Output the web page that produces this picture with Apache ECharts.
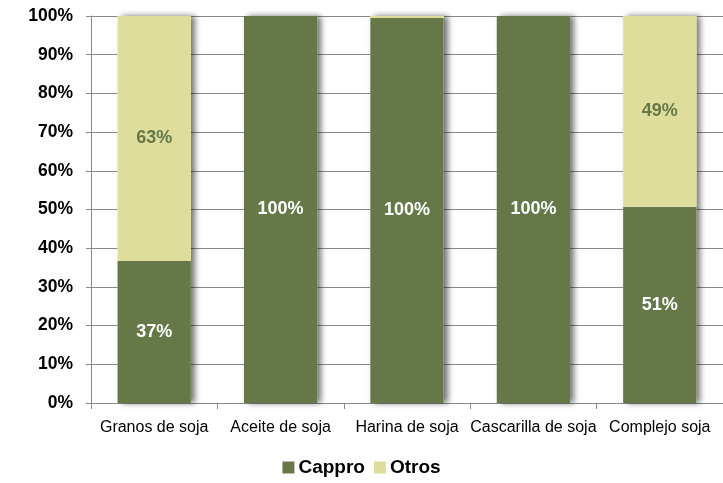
<!DOCTYPE html>
<html><head><meta charset="utf-8">
<script src="https://cdn.jsdelivr.net/npm/echarts@6/dist/echarts.min.js"></script>
<style>html,body{margin:0;padding:0;background:#fff}#c{width:723px;height:483px}</style>
</head><body><div id="c"></div>
<script>
const categories = ["Granos de soja", "Aceite de soja", "Harina de soja", "Cascarilla de soja", "Complejo soja"];
const cappro = [36.7, 100, 99.5, 100, 50.7];
const otros = [63.3, 0, 0.5, 0, 49.3];
const yTicks = [0, 10, 20, 30, 40, 50, 60, 70, 80, 90, 100];

const FONT = '"Liberation Sans", Arial, sans-serif';
const totals = cappro.map((v, i) => v + otros[i]);
const chart = echarts.init(document.getElementById('c'));
function lbl(v){ return v >= 5 ? Math.round(v) + '%' : ''; }
chart.setOption({
  animation: false,
  textStyle: {fontFamily: FONT},
  grid: {left: 91, right: 0, top: 16, bottom: 80, containLabel: false},
  legend: {
    bottom: 1, left: 'center', itemWidth: 12, itemHeight: 12, itemGap: 9,
    icon: 'rect',
    textStyle: {fontFamily: FONT, fontWeight: 'bold', fontSize: 19, color: '#000', padding:[0,0,0,-1]},
    data: ['Cappro', 'Otros']
  },
  xAxis: {
    type: 'category', data: categories,
    axisLine: {lineStyle: {color: '#888', width: 1}},
    axisTick: {show: true, length: 6, interval: 0, lineStyle: {color: '#888'}},
    axisLabel: {color: '#000', fontSize: 16, margin: 17, interval: 0, fontFamily: FONT}
  },
  yAxis: {
    type: 'value', min: 0, max: 100, interval: 10,
    axisLine: {show: true, lineStyle: {color: '#888'}},
    axisTick: {show: true, length: 5, lineStyle: {color: '#888'}},
    splitLine: {lineStyle: {color: '#888', width: 1}},
    axisLabel: {color: '#000', fontSize: 17.5, fontWeight: 'bold', margin: 18,
      formatter: v => yTicks.includes(v) ? v + '%' : ''}
  },
  series: [
    {name: 'shadow', type: 'bar', data: totals, barWidth: '58%', barGap: '-100%', silent: true, z: 1,
      itemStyle: {color: '#fff', shadowColor: 'rgba(0,0,0,0.55)', shadowBlur: 6, shadowOffsetX: 4, shadowOffsetY: 0},
      label: {show: false}},
    {name: 'Cappro', type: 'bar', stack: 's', data: cappro, barWidth: '58%', barGap: '-100%', z: 2,
      itemStyle: {color: '#677848'},
      label: {show: true, position: 'inside', color: '#fff', fontSize: 18, fontWeight: 'bold', formatter: p => lbl(p.value)}},
    {name: 'Otros', type: 'bar', stack: 's', data: otros, barWidth: '58%', barGap: '-100%', z: 2,
      itemStyle: {color: '#dfdd9c'},
      label: {show: true, position: 'inside', color: '#677848', fontSize: 18, fontWeight: 'bold', formatter: p => lbl(p.value)}}
  ]
});
</script></body></html>
